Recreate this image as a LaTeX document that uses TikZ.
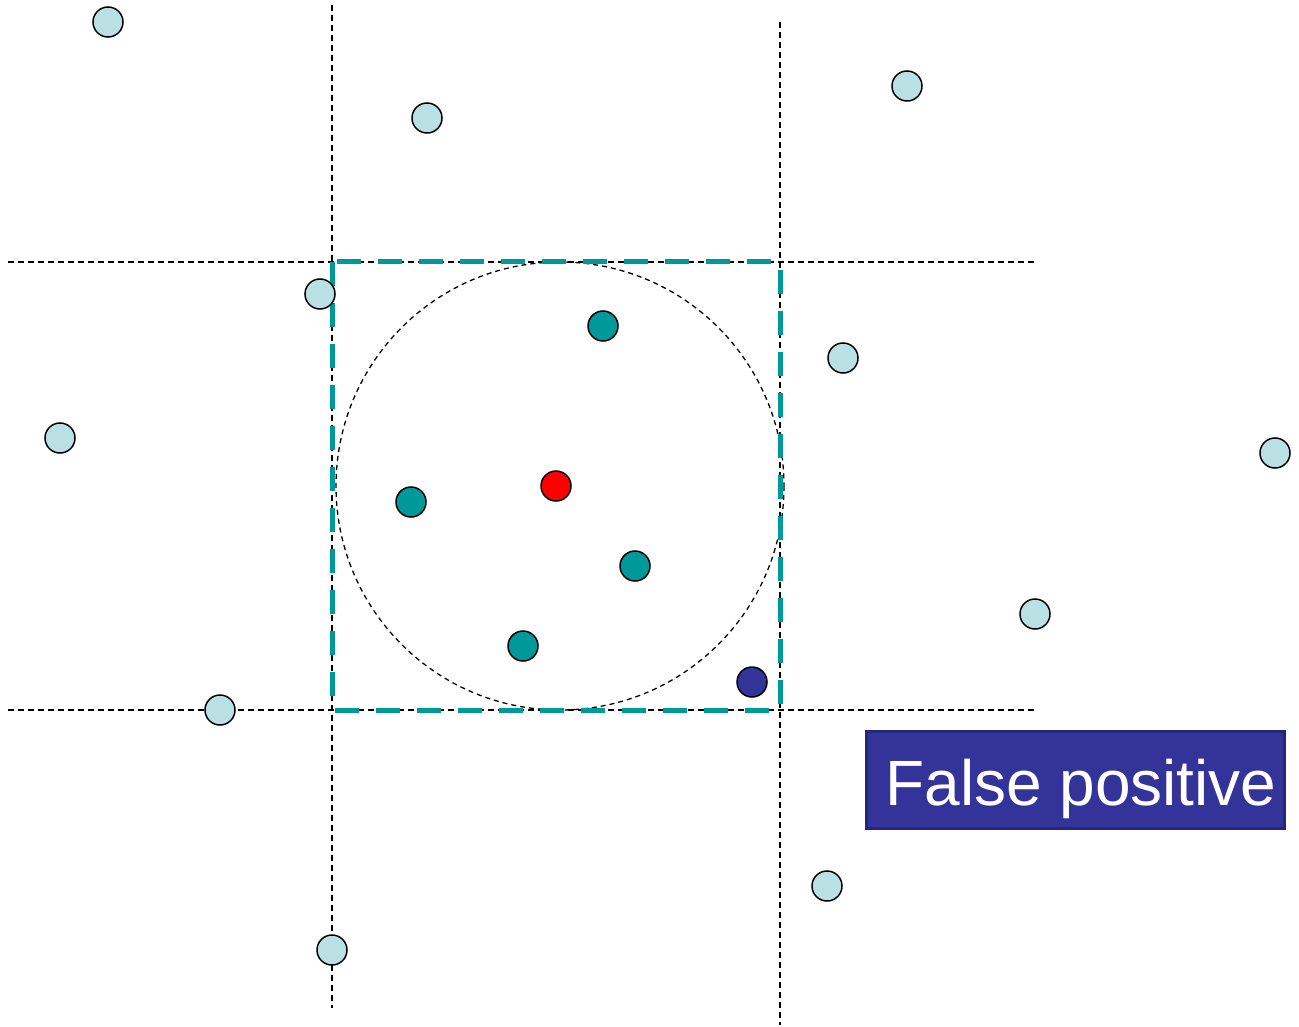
\documentclass[tikz,border=0pt]{standalone}
\usepackage{fontspec}
\setmainfont{Liberation Sans}
\definecolor{lightpt}{HTML}{BBE0E3}
\definecolor{tealpt}{HTML}{009999}
\definecolor{navypt}{HTML}{333399}
\definecolor{navyedge}{HTML}{26267A}
\begin{document}
\begin{tikzpicture}[x=1pt,y=-1pt,
  pt/.style={circle,draw=black,line width=1.5pt,minimum size=30pt,inner sep=0pt},
  light/.style={pt,fill=lightpt},
  inner/.style={pt,fill=tealpt},
  grid/.style={black,line width=1.3pt,dash pattern=on 6pt off 4pt},
  sq/.style={tealpt,line width=5pt,dash pattern=on 24pt off 17pt},
  lab/.style={fill=navypt,draw=navyedge,line width=3pt,minimum width=418pt,minimum height=97pt,inner sep=0pt},
  labtext/.style={text=white,font=\fontsize{64}{64}\selectfont,inner sep=0pt}]
\useasboundingbox (0,0) rectangle (1299,1027);
% grid lines
\coordinate (v1t) at (332,5); \coordinate (v1b) at (332,1008);
\coordinate (v2t) at (780,22); \coordinate (v2b) at (780,1025);
\coordinate (h1l) at (8,262); \coordinate (h1r) at (1036,262);
\coordinate (h2l) at (8,710); \coordinate (h2r) at (1036,710);
\draw[grid] (v1t) -- (v1b);
\draw[grid] (v2t) -- (v2b);
\draw[grid] (h1l) -- (h1r);
\draw[grid] (h2l) -- (h2r);
% circle
\coordinate (c) at (560,486);
\draw[black,line width=1.3pt,dash pattern=on 5pt off 4pt] (c) circle[radius=224];
% dashed square
\coordinate (sqa) at (332,262); \coordinate (sqb) at (780,710);
\draw[sq] (sqa) rectangle (sqb);
% points
\foreach \n/\x/\y in {l1/108/22,l2/427/118,l3/907/86,l4/320/294,l5/843/358,l6/60/438,l7/1275/453,l8/1035/614,l9/220/710,l10/827/886,l11/332/950}
  \node[light] (\n) at (\x,\y) {};
\foreach \n/\x/\y in {t1/603/326,t2/411/502,t3/635/566,t4/523/646}
  \node[inner] (\n) at (\x,\y) {};
\node[pt,fill=red] (q) at (556,486) {};
\node[pt,fill=navypt] (fp) at (752,682) {};
\node[lab] (label) at (1075,780) {};
\node[labtext,anchor=base] (labeltext) at (1081,805) {False positive};
\end{tikzpicture}
\end{document}
